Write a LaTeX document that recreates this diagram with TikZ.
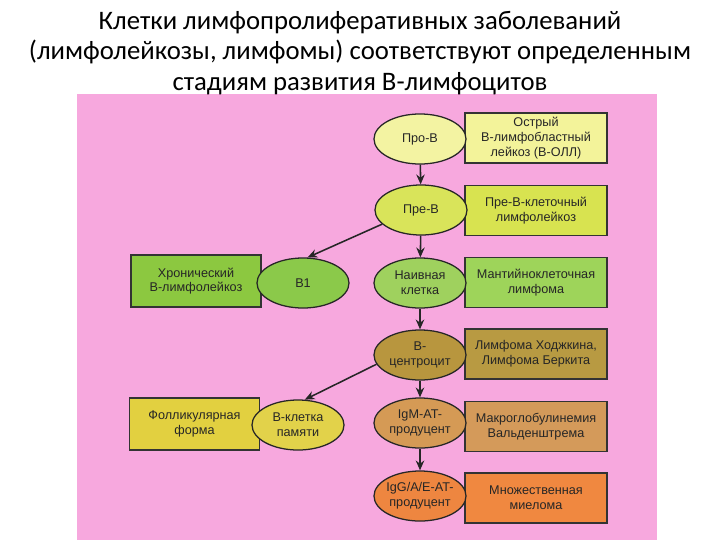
\documentclass[tikz,border=0pt]{standalone}
\usepackage{fontspec}
\setmainfont{Liberation Sans}
\newfontfamily\titlefont{Carlito}
\usetikzlibrary{shapes.geometric,arrows.meta}

\definecolor{panelpink}{HTML}{F7A8DE}
\definecolor{proell}{HTML}{F3F3A2}
\definecolor{probox}{HTML}{F3F39A}
\definecolor{preell}{HTML}{D9E45A}
\definecolor{prebox}{HTML}{D8E350}
\definecolor{grnell}{HTML}{8BC94A}
\definecolor{grnbox}{HTML}{8CC840}
\definecolor{naiell}{HTML}{9FD15E}
\definecolor{naibox}{HTML}{9ED45A}
\definecolor{cenell}{HTML}{B8963E}
\definecolor{cenbox}{HTML}{B89A42}
\definecolor{memell}{HTML}{E2D24A}
\definecolor{membox}{HTML}{E2D040}
\definecolor{igmell}{HTML}{D59A55}
\definecolor{igmbox}{HTML}{D49A5A}
\definecolor{iggell}{HTML}{EE8640}
\definecolor{iggbox}{HTML}{F08840}

\begin{document}
\begin{tikzpicture}[x=0.025cm,y=-0.025cm,
    cell/.style={ellipse,draw=black!85,line width=0.9pt,minimum width=2.3cm,minimum height=1.25cm,
        inner xsep=-6pt,inner ysep=0pt,align=center,text=black!85,font=\fontsize{9}{10.5}\selectfont},
    disease/.style={rectangle,draw=black!80,line width=0.9pt,minimum width=3.55cm,minimum height=1.25cm,
        inner sep=1pt,align=center,text=black!85,font=\fontsize{9}{10.5}\selectfont},
    leftdisease/.style={disease,minimum width=3.25cm,minimum height=1.3cm},
    flow/.style={-{Stealth[length=7pt,width=6pt]},line width=1.1pt,draw=black!85}]

    \useasboundingbox (0,0) rectangle (720,540);
    \fill[panelpink] (77,94) rectangle (657,540);

    % title
    \node[align=center,font=\titlefont\fontsize{19}{21.5}\selectfont] (title) at (360,53)
        {Клетки лимфопролиферативных заболеваний\\
         (лимфолейкозы, лимфомы) соответствуют определенным\\
         стадиям развития В-лимфоцитов};

    % diseases
    \node[disease,fill=probox] (oll) at (536,138) {Острый\\В-лимфобластный\\лейкоз (В-ОЛЛ)};
    \node[disease,fill=prebox] (prell) at (536,210.5) {Пре-В-клеточный\\лимфолейкоз};
    \node[disease,fill=naibox] (mantle) at (536,282.5) {Мантийноклеточная\\лимфома};
    \node[disease,fill=cenbox] (hodg) at (536,354) {Лимфома Ходжкина,\\Лимфома Беркита};
    \node[disease,fill=igmbox] (wald) at (536,426.5) {Макроглобулинемия\\Вальденштрема};
    \node[disease,fill=iggbox] (myel) at (536,498) {Множественная\\миелома};
    \node[leftdisease,fill=grnbox] (cll) at (196,281) {Хронический\\В-лимфолейкоз};
    \node[leftdisease,fill=membox] (foll) at (194.5,424) {Фолликулярная\\форма};

    % cells
    \node[cell,fill=proell] (prob) at (420,139) {Про-В};
    \node[cell,fill=preell] (preb) at (421,210) {Пре-В};
    \node[cell,fill=naiell] (naive) at (420,283) {Наивная\\клетка};
    \node[cell,fill=cenell] (centro) at (420,355) {В-\\центроцит};
    \node[cell,fill=igmell] (igm) at (420,423) {IgM-AT-\\продуцент};
    \node[cell,fill=iggell] (igg) at (420,496) {IgG/A/E-AT-\\продуцент};
    \node[cell,fill=grnell] (bone) at (303,283) {В1};
    \node[cell,fill=memell] (memory) at (298,425) {В-клетка\\памяти};

    % arrows
    \draw[flow] (prob) -- (preb);
    \draw[flow] (preb) -- (naive);
    \draw[flow] (naive) -- (centro);
    \draw[flow] (centro) -- (igm);
    \draw[flow] (igm) -- (igg);
    \draw[flow] (preb.200) -- (bone.80);
    \draw[flow] (centro.192) -- (memory.75);

\end{tikzpicture}
\end{document}
